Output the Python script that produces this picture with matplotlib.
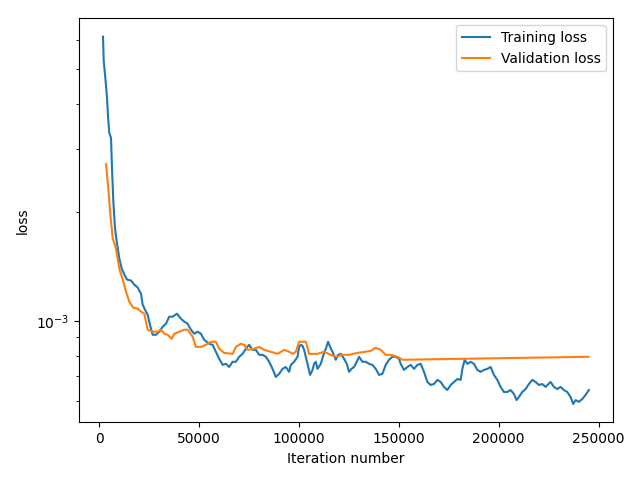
import matplotlib
matplotlib.use('Agg')
import matplotlib.pyplot as plt

# Training loss
train_iter = [2000, 2350, 3150, 4000, 4500, 5150, 6000, 6500, 7150, 8000,
              8850, 10150, 11350, 12650, 14000, 16000, 17650, 19350, 21000, 21850,
              23000, 24350, 25500, 26850, 28500, 30150, 31850, 33500, 35150, 36850,
              39000, 41000, 42650, 44350, 46000, 47650, 49350, 51000, 52650, 55150,
              56850, 58500, 60150, 61850, 63500, 65150, 66850, 68500, 70150, 71850,
              73500, 75150, 76850, 78500, 80150, 81850, 83500, 85150, 86850, 88500,
              90150, 91850, 93500, 95150, 96000, 97650, 99350, 100150, 101000, 101850,
              102650, 103500, 104350, 105650, 106850, 107650, 108500, 109350, 111000, 112350,
              113500, 114650, 115650, 116850, 118500, 119650, 121000, 122650, 124000, 125150,
              126350, 127650, 129000, 130150, 131850, 133500, 135150, 136850, 138500, 140150,
              141850, 143500, 145150, 146850, 148500, 150150, 151000, 152650, 154350, 156000,
              157650, 159350, 161000, 162650, 164350, 166000, 167650, 169350, 171000, 172650,
              174350, 176000, 177650, 179350, 181000, 181850, 183000, 184350, 186000, 187650,
              189350, 191000, 192650, 194350, 196000, 197650, 199350, 201000, 202650, 204350,
              206000, 207650, 209000, 210150, 211850, 213500, 215150, 216850, 218500, 220150,
              221850, 223500, 226000, 227650, 229350, 231000, 232650, 234350, 236000, 237350,
              238500, 240150, 241850, 243500, 245150]
train_loss = [6.15, 5.27, 4.73, 4.16, 3.70, 3.32, 3.22, 2.65, 2.15, 1.805,
              1.661, 1.489, 1.396, 1.344, 1.301, 1.293, 1.260, 1.236, 1.189, 1.108,
              1.073, 1.039, 0.975, 0.914, 0.914, 0.932, 0.962, 0.981, 1.026, 1.026,
              1.046, 1.013, 0.994, 0.981, 0.944, 0.920, 0.932, 0.920, 0.885, 0.863,
              0.857, 0.820, 0.784, 0.754, 0.759, 0.744, 0.769, 0.769, 0.794, 0.809,
              0.836, 0.857, 0.830, 0.830, 0.804, 0.804, 0.794, 0.769, 0.735, 0.698,
              0.712, 0.735, 0.744, 0.721, 0.754, 0.769, 0.794, 0.846, 0.857, 0.852,
              0.830, 0.794, 0.759, 0.707, 0.730, 0.759, 0.769, 0.735, 0.759, 0.804,
              0.836, 0.874, 0.846, 0.820, 0.779, 0.804, 0.809, 0.784, 0.759, 0.721,
              0.735, 0.744, 0.769, 0.794, 0.769, 0.769, 0.759, 0.754, 0.735, 0.707,
              0.712, 0.754, 0.779, 0.794, 0.794, 0.784, 0.759, 0.730, 0.744, 0.754,
              0.735, 0.754, 0.759, 0.721, 0.676, 0.663, 0.667, 0.685, 0.676, 0.655,
              0.642, 0.663, 0.676, 0.689, 0.685, 0.735, 0.779, 0.759, 0.769, 0.759,
              0.730, 0.721, 0.730, 0.735, 0.744, 0.707, 0.685, 0.655, 0.634, 0.634,
              0.642, 0.626, 0.602, 0.614, 0.634, 0.646, 0.667, 0.685, 0.676, 0.663,
              0.667, 0.655, 0.676, 0.655, 0.646, 0.655, 0.642, 0.634, 0.614, 0.587,
              0.602, 0.595, 0.606, 0.622, 0.642]

# Validation loss
val_iter = [3500, 4650, 5650, 6850, 8500, 10150, 11850, 13500, 15150, 17150,
            19350, 21000, 22650, 24350, 26850, 29350, 31000, 32650, 34350, 36350,
            37650, 42650, 44350, 46850, 48500, 51000, 53500, 56000, 58500, 60150,
            62650, 66850, 68500, 71000, 72650, 74350, 77650, 80150, 82650, 86000,
            89350, 92650, 95150, 97000, 98500, 100150, 103500, 105150, 109350, 112650,
            116000, 118500, 121850, 125150, 129350, 133500, 136000, 138500, 141000, 143500,
            146000, 149350, 151850, 245000]
val_loss = [2.72, 2.33, 1.974, 1.692, 1.587, 1.396, 1.301, 1.205, 1.130, 1.087,
            1.080, 1.060, 1.046, 0.944, 0.932, 0.932, 0.944, 0.920, 0.914, 0.891,
            0.920, 0.944, 0.944, 0.903, 0.846, 0.846, 0.857, 0.874, 0.874, 0.836,
            0.814, 0.809, 0.846, 0.863, 0.857, 0.830, 0.836, 0.846, 0.830, 0.820,
            0.809, 0.830, 0.820, 0.809, 0.820, 0.874, 0.874, 0.809, 0.809, 0.820,
            0.804, 0.794, 0.804, 0.804, 0.814, 0.820, 0.825, 0.841, 0.830, 0.804,
            0.804, 0.794, 0.779, 0.794]

train_loss = [v * 1e-3 for v in train_loss]
val_loss = [v * 1e-3 for v in val_loss]

plt.figure(figsize=(6.4, 4.8), dpi=100)
plt.plot(train_iter, train_loss, label='Training loss')
plt.plot(val_iter, val_loss, label='Validation loss')
plt.yscale('log')
plt.xlabel('Iteration number')
plt.ylabel('loss')
plt.legend(loc='upper right')
plt.subplots_adjust(left=0.123, right=0.958, top=0.962, bottom=0.12)

plt.savefig('out.png')
print("Plot saved as out.png")
